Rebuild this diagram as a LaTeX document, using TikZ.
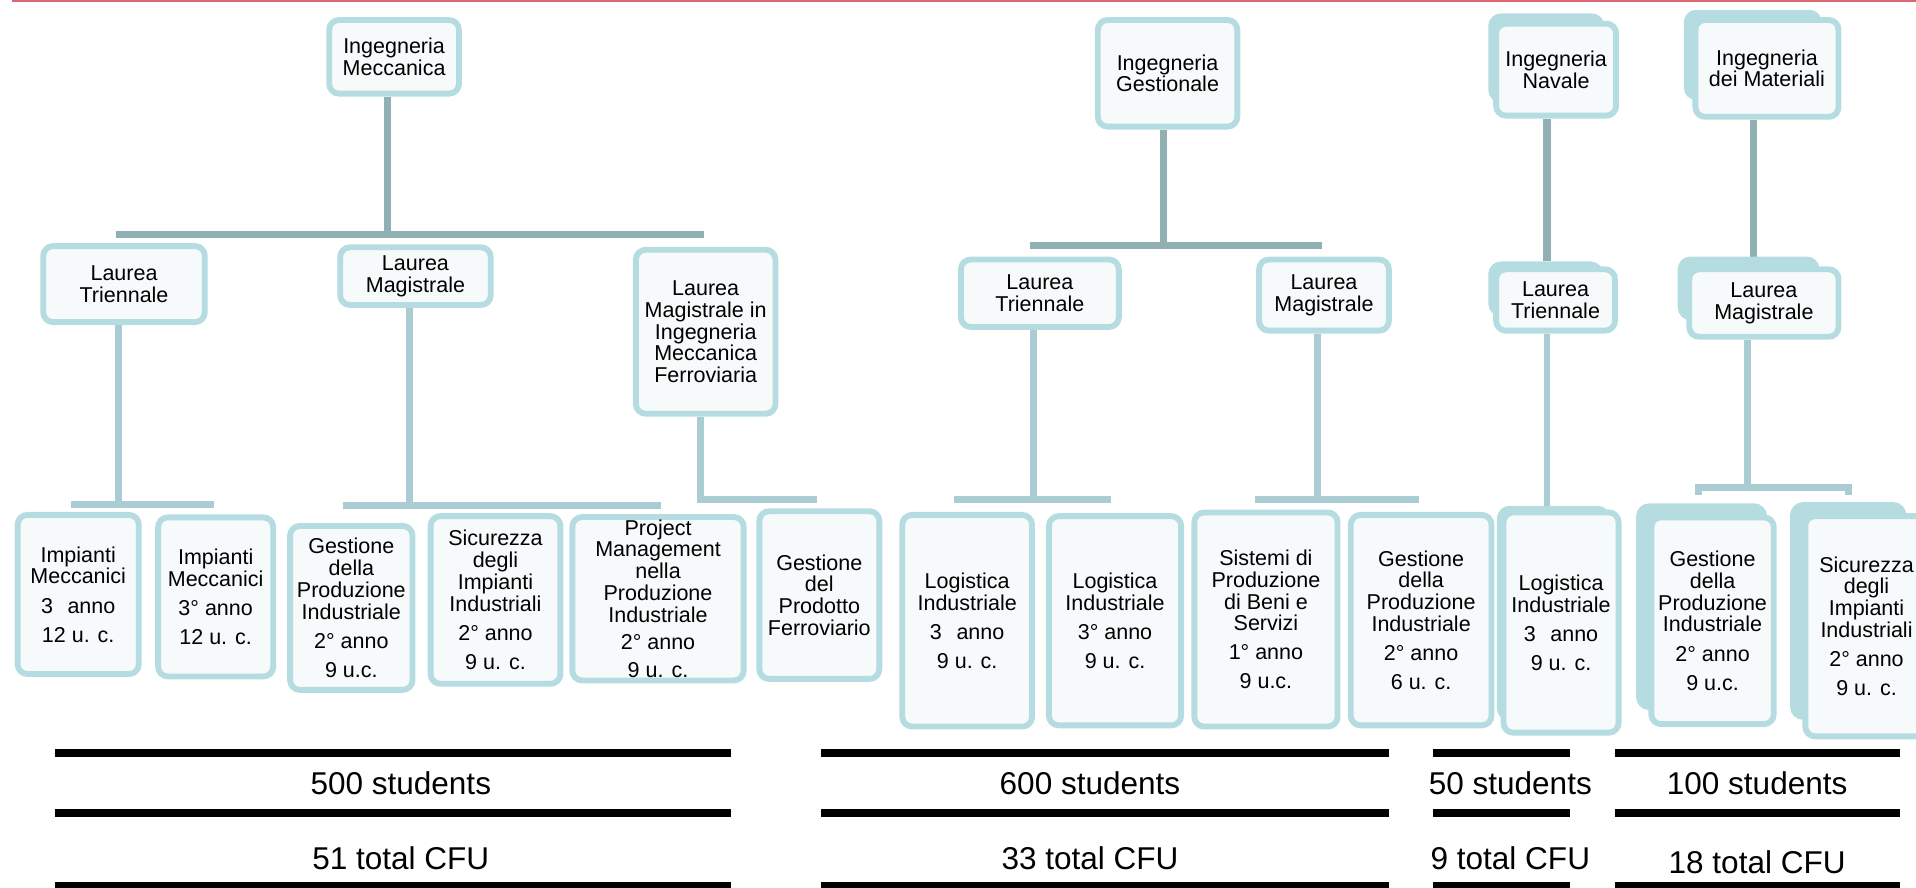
\documentclass[tikz,border=0pt]{standalone}
\usepackage{fontspec}
\setmainfont{Liberation Sans}
\usetikzlibrary{backgrounds}

\definecolor{boxline}{HTML}{B5DCE1}
\definecolor{boxfill}{HTML}{F6FAFB}
\definecolor{trunkc}{HTML}{90B0B4}
\definecolor{stemc}{HTML}{A9CDD2}
\definecolor{rulec}{HTML}{DC6672}

\tikzset{
  box/.style={draw=boxline, fill=boxfill, line width=2.4pt, rounded corners=4pt,
    align=center, inner sep=1pt, font=\fontsize{8.8}{8.9}\selectfont},
  backbox/.style={fill=boxline},
  trunk/.style={draw=trunkc, line width=3pt},
  stem/.style={draw=stemc, line width=2.8pt},
  sumrule/.style={draw=black, line width=3.2pt},
  sumtext/.style={font=\fontsize{12.9}{14}\selectfont, inner sep=0pt},
}

% box given by its outer corners (x1,y1)-(x2,y2)
\newcommand\orgbox[7][]{%
  \pgfmathsetmacro\obw{(#5-#3)*0.5-2.4}%
  \pgfmathsetmacro\obh{(#6-#4)*0.5-2.4}%
  \node[box,minimum width=\obw pt,minimum height=\obh pt,#1] (#2)
    at ({(#3+#5)/2},{(#4+#6)/2}) {#7};}

\begin{document}
\begin{tikzpicture}[x=0.5pt,y=-0.5pt]
\useasboundingbox (0,0) rectangle (1568,726);

% top rule
\draw[rulec, line width=0.9pt] (10,1) -- (1568,1);

% ---------- boxes ----------
% Ingegneria Meccanica
\orgbox{IM}{267}{14}{378}{79}{Ingegneria\\Meccanica}
\orgbox{LT1}{33}{199}{170}{266}{Laurea\\Triennale}
\orgbox{LM1}{276}{200}{404}{252}{Laurea\\Magistrale}
\orgbox{LMF}{518}{202}{637}{341}{Laurea\\Magistrale in\\Ingegneria\\Meccanica\\Ferroviaria}
\orgbox{L1}{12}{419}{116}{554}{Impianti\\Meccanici\\[3pt]3\phantom{°} anno\\[3pt]12 u. c.}
\orgbox{L2}{127}{421}{226}{556}{Impianti\\Meccanici\\[3pt]3° anno\\[3pt]12 u. c.}
\orgbox{L3}{235}{428}{340}{567}{Gestione\\della\\Produzione\\Industriale\\[3pt]2° anno\\[3pt]9 u.c.}
\orgbox{L4}{350}{420}{461}{562}{Sicurezza\\degli\\Impianti\\Industriali\\[3pt]2° anno\\[3pt]9 u. c.}
\orgbox{L5}{466}{421}{611}{559}{Project\\Management\\nella\\Produzione\\Industriale\\[2.5pt]2° anno\\[2.5pt]9 u. c.}
\orgbox{L6}{619}{416}{722}{558}{Gestione\\del\\Prodotto\\Ferroviario}

% Ingegneria Gestionale
\orgbox{IG}{896}{14}{1015}{106}{Ingegneria\\Gestionale}
\orgbox{LT2}{784}{210}{918}{270}{Laurea\\Triennale}
\orgbox{LM2}{1028}{210}{1139}{273}{Laurea\\Magistrale}
\orgbox{L7}{736}{419}{847}{597}{Logistica\\Industriale\\[3pt]3\phantom{°} anno\\[3pt]9 u. c.}
\orgbox{L8}{856}{420}{969}{596}{Logistica\\Industriale\\[3pt]3° anno\\[3pt]9 u. c.}
\orgbox{L9}{975}{417}{1097}{597}{Sistemi di\\Produzione\\di Beni e\\Servizi\\[3pt]1° anno\\[3pt]9 u.c.}
\orgbox{L10}{1103}{419}{1223}{596}{Gestione\\della\\Produzione\\Industriale\\[3pt]2° anno\\[3pt]6 u. c.}

% Ingegneria Navale (stacked boxes)
\orgbox[backbox]{INbk}{1218}{11}{1313}{84}{}
\orgbox{IN}{1222}{17}{1325}{97}{Ingegneria\\Navale}
\orgbox[backbox]{LT3bk}{1218}{214}{1312}{259}{}
\orgbox{LT3}{1222}{218}{1324}{273}{Laurea\\Triennale}
\orgbox[backbox]{L11bk}{1225}{414}{1318}{590}{}
\orgbox{L11}{1228}{417}{1327}{602}{Logistica\\Industriale\\[3pt]3\phantom{°} anno\\[3pt]9 u. c.}

% Ingegneria dei Materiali (stacked boxes)
\orgbox[backbox]{IDMbk}{1378}{8}{1491}{82}{}
\orgbox{IDM}{1385}{14}{1507}{98}{Ingegneria\\dei Materiali}
\orgbox[backbox]{LM3bk}{1373}{210}{1489}{262}{}
\orgbox{LM3}{1380}{218}{1507}{278}{Laurea\\Magistrale}
\orgbox[backbox]{L12bk}{1339}{412}{1446}{581}{}
\orgbox{L12}{1349}{421}{1454}{595}{Gestione\\della\\Produzione\\Industriale\\[3pt]2° anno\\[3pt]9 u.c.}
\orgbox[backbox]{L13bk}{1465}{411}{1560}{589}{}
\orgbox{L13}{1475}{420}{1580}{605}{Sicurezza\\degli\\Impianti\\Industriali\\[3pt]2° anno\\[3pt]9 u. c.}

% ---------- bar coordinates ----------
\coordinate (mecL) at (95,192);   \coordinate (mecR) at (576,192);
\coordinate (gesL) at (843,201);  \coordinate (gesR) at (1082,201);
\coordinate (t1L) at (58,413);    \coordinate (t1R) at (175,413);
\coordinate (m1L) at (281,414);   \coordinate (m1R) at (541,414);
\coordinate (fEnd) at (669,409);
\coordinate (t2L) at (781,409);   \coordinate (t2R) at (909,409);
\coordinate (m2L) at (1027,409);  \coordinate (m2R) at (1161,409);
\coordinate (m3L) at (1390,399);  \coordinate (m3R) at (1513,399);

% ---------- connectors ----------
\begin{scope}[on background layer]
  % Meccanica
  \draw[trunk] ([xshift=-2.75pt]IM.south) -- ([xshift=-2.75pt]IM.south |- mecL);
  \draw[trunk] (mecL) -- (mecR);
  \draw[stem] ([xshift=-2.25pt]LT1.south) -- ([xshift=-2.25pt]LT1.south |- t1L);
  \draw[stem] (t1L) -- (t1R);
  \draw[stem] ([xshift=-2.5pt]LM1.south) -- ([xshift=-2.5pt]LM1.south |- m1L);
  \draw[stem] (m1L) -- (m1R);
  \draw[stem] ([xshift=-2.25pt]LMF.south) |- (fEnd);
  % Gestionale
  \draw[trunk] ([xshift=-1.75pt]IG.south) -- ([xshift=-1.75pt]IG.south |- gesL);
  \draw[trunk] (gesL) -- (gesR);
  \draw[stem] ([xshift=-2.5pt]LT2.south) -- ([xshift=-2.5pt]LT2.south |- t2L);
  \draw[stem] (t2L) -- (t2R);
  \draw[stem] ([xshift=-2.75pt]LM2.south) -- ([xshift=-2.75pt]LM2.south |- m2L);
  \draw[stem] (m2L) -- (m2R);
  % Navale
  \draw[trunk] ([xshift=-3.75pt]IN.south) -- ([xshift=-3.75pt]IN.south |- LT3bk.north);
  \draw[stem] ([xshift=-3.5pt]LT3.south) -- ([xshift=-3.5pt]LT3.south |- L11bk.north);
  % Materiali
  \draw[trunk] ([xshift=-5.5pt]IDM.south) -- ([xshift=-5.5pt]IDM.south |- LM3bk.north);
  \draw[stem] ([xshift=-6.75pt]LM3.south) -- ([xshift=-6.75pt]LM3.south |- m3L);
  \draw[stem] ([yshift=-3pt]m3L) -- (m3L) -- (m3R) -- ([yshift=-3pt]m3R);
\end{scope}

% ---------- summary rows ----------
\foreach \a/\b in {45/598, 672/1137, 1173/1285, 1322/1555}{
  \draw[sumrule] (\a,616) -- (\b,616);
  \draw[sumrule] (\a,665) -- (\b,665);
  \draw[sumrule] (\a,725) -- (\b,725);
}
\node[sumtext] (st1) at (328,641) {500 students};
\node[sumtext] (cf1) at (328,702) {51 total CFU};
\node[sumtext] (st2) at (892,641) {600 students};
\node[sumtext] (cf2) at (892,702) {33 total CFU};
\node[sumtext] (st3) at (1236,641) {50 students};
\node[sumtext] (cf3) at (1236,702) {9 total CFU};
\node[sumtext] (st4) at (1438,641) {100 students};
\node[sumtext] (cf4) at (1438,706) {18 total CFU};

\end{tikzpicture}
\end{document}
